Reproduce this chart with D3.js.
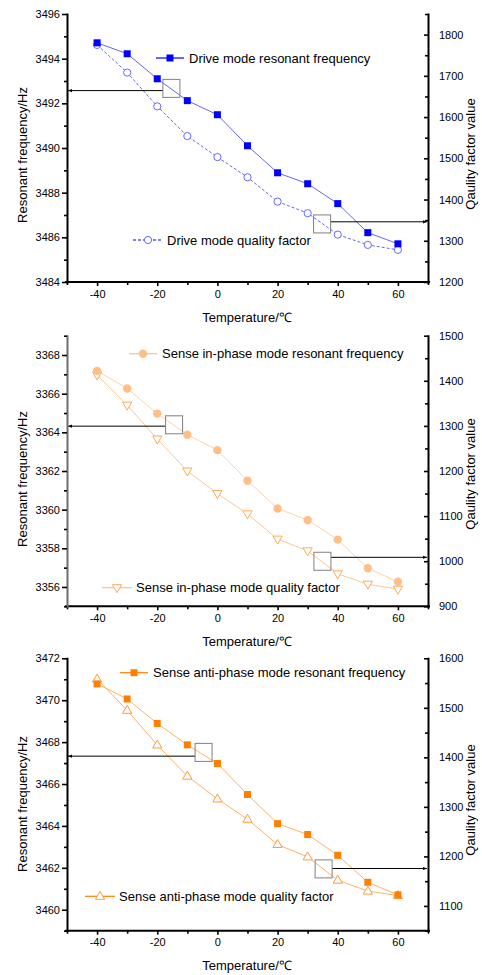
<!DOCTYPE html>
<html>
<head>
<meta charset="UTF-8" />
<script src="https://d3js.org/d3.v7.min.js"></script>
<style>
  body { margin: 0; background: #fff; }
  text { font-family: "Liberation Sans", Arial, sans-serif; fill: #000; }
</style>
</head>
<body>
<div id="chart"></div>
<script>
// ---- data ----
var temps = [-40, -30, -20, -10, 0, 10, 20, 30, 40, 50, 60];

var driveFreq = [3494.71, 3494.22, 3493.10, 3492.12, 3491.49, 3490.10, 3488.89, 3488.40, 3487.51, 3486.21, 3485.71];
var driveQ = [1775, 1708, 1626, 1554, 1503, 1454, 1395, 1367, 1315, 1290, 1278];

var inFreq = [3367.18, 3366.27, 3364.97, 3363.88, 3363.08, 3361.50, 3360.06, 3359.46, 3358.45, 3356.97, 3356.27];
var inQ = [1413, 1346, 1271, 1200, 1150, 1105, 1049, 1023, 972, 949, 938];

var antiFreq = [3470.78, 3470.06, 3468.89, 3467.87, 3466.98, 3465.50, 3464.11, 3463.59, 3462.60, 3461.31, 3460.71];
var antiQ = [1558, 1495, 1425, 1362, 1316, 1275, 1224, 1199, 1152, 1130, 1121];

var xTicks = [-40, -20, 0, 20, 40, 60];
var xMinor = [-50, -30, -10, 10, 30, 50, 70];

var legendNames = [
  ["Drive mode resonant frequency", "Drive mode quality factor"],
  ["Sense in-phase mode resonant frequency", "Sense in-phase mode quality factor"],
  ["Sense anti-phase mode resonant frequency", "Sense anti-phase mode quality factor"]
];

// annotation: [x, left-axis y of box, left-axis y of arrow] for the box pointing left,
// [x, left-axis y of box, right-axis y of arrow] for the box pointing right
var annLeft = [[-15.3, 3492.67, 3492.57], [-14.4, 3364.39, 3364.32], [-4.6, 3467.51, 3467.33]];
var annRight = [[34.8, 3486.6, 1346], [34.9, 3357.33, 1008.6], [35.3, 3461.95, 1175.6]];

// ---- layout ----
var W = 482, H = 975;
var xLeft = 67, xRight = 428;

var svg = d3.select("#chart").append("svg")
  .attr("width", W).attr("height", H);

svg.append("defs").append("marker")
  .attr("id", "arr")
  .attr("viewBox", "0 0 10 10")
  .attr("refX", 10).attr("refY", 5)
  .attr("markerWidth", 5).attr("markerHeight", 4)
  .attr("orient", "auto")
  .append("path").attr("d", "M0,1L10,5L0,9z").attr("fill", "#000");

var x = d3.scaleLinear().domain([-50, 70]).range([xLeft, xRight]);
var plain = function (d) { return String(d); };

var panels = [
  {
    top: 14, bottom: 282,
    left: [3484, 3496], right: [1200, 1850],
    lTicks: d3.range(3484, 3497, 2), lMinor: d3.range(3485, 3496, 2),
    rTicks: d3.range(1200, 1801, 100), rMinor: d3.range(1250, 1851, 100),
    freq: driveFreq, q: driveQ,
    freqMarker: "square", qMarker: "circleOpen",
    fill: "#0000ff", line: "#6464ff", qStroke: "#6868ff", qLine: "#6464ff", qDash: "3,2",
    legFreq: [170, 58], legQ: [148, 240], legLine: "#0000ff", legQLine: "#0000ff",
    leftAxisColor: "#000", titleY: 155, rTitleY: 154
  },
  {
    top: 335.7, bottom: 606.3,
    left: [3355, 3369], right: [900, 1500],
    lTicks: d3.range(3356, 3369, 2), lMinor: d3.range(3355, 3370, 2),
    rTicks: d3.range(900, 1501, 100), rMinor: d3.range(950, 1451, 100),
    freq: inFreq, q: inQ,
    freqMarker: "circle", qMarker: "triDown",
    fill: "#ffbf87", line: "#ffd3aa", qStroke: "#ffa95a", qLine: "#ffc690", qDash: null,
    legFreq: [143, 353.7], legQ: [117, 587.7], legLine: "#ffbf87", legQLine: "#ffbf87",
    leftAxisColor: "#6e6e6e", titleY: 479, rTitleY: 474
  },
  {
    top: 658.3, bottom: 930.7,
    left: [3459, 3472], right: [1050, 1600],
    lTicks: d3.range(3460, 3473, 2), lMinor: d3.range(3459, 3472, 2),
    rTicks: d3.range(1100, 1601, 100), rMinor: d3.range(1050, 1551, 100),
    freq: antiFreq, q: antiQ,
    freqMarker: "square", qMarker: "triUp",
    fill: "#ff8000", line: "#ffb366", qStroke: "#ff9b3a", qLine: "#ffb366", qDash: null,
    legFreq: [134, 672.7], legQ: [100, 896.3], legLine: "#ff8000", legQLine: "#ff8000",
    leftAxisColor: "#000", titleY: 804, rTitleY: 800
  }
];

function drawMarker(g, kind, cx, cy, p) {
  if (kind === "square") {
    g.append("rect").attr("x", cx - 3.5).attr("y", cy - 3.5)
      .attr("width", 7).attr("height", 7).attr("fill", p.fill);
  } else if (kind === "circle") {
    g.append("circle").attr("cx", cx).attr("cy", cy).attr("r", 4.2).attr("fill", p.fill);
  } else if (kind === "circleOpen") {
    g.append("circle").attr("cx", cx).attr("cy", cy).attr("r", 3.6)
      .attr("fill", "#fff").attr("stroke", p.qStroke).attr("stroke-width", 1);
  } else {
    var s = kind === "triDown" ? -1 : 1;
    var path = "M" + cx + "," + (cy - s * 5) + "L" + (cx + 4.6) + "," + (cy + s * 3) +
      "L" + (cx - 4.6) + "," + (cy + s * 3) + "Z";
    g.append("path").attr("d", path).attr("fill", "#fff")
      .attr("stroke", p.qStroke).attr("stroke-width", 1);
  }
}

panels.forEach(function (p, i) {
  var yL = d3.scaleLinear().domain(p.left).range([p.bottom, p.top]);
  var yR = d3.scaleLinear().domain(p.right).range([p.bottom, p.top]);
  var g = svg.append("g");

  // lines
  var lineF = d3.line().x(function (d, k) { return x(temps[k]); }).y(function (d) { return yL(d); });
  var lineQ = d3.line().x(function (d, k) { return x(temps[k]); }).y(function (d) { return yR(d); });

  g.append("path").attr("d", lineQ(p.q)).attr("fill", "none")
    .attr("stroke", p.qLine).attr("stroke-width", 1)
    .attr("stroke-dasharray", p.qDash);
  g.append("path").attr("d", lineF(p.freq)).attr("fill", "none")
    .attr("stroke", p.line).attr("stroke-width", 1);

  p.q.forEach(function (v, k) { drawMarker(g, p.qMarker, x(temps[k]), yR(v), p); });
  p.freq.forEach(function (v, k) { drawMarker(g, p.freqMarker, x(temps[k]), yL(v), p); });

  // annotation boxes and arrows
  var a = annLeft[i];
  g.append("line").attr("x1", x(a[0]) - 8.5).attr("x2", xLeft + 1)
    .attr("y1", yL(a[2])).attr("y2", yL(a[2]))
    .attr("stroke", "#000").attr("stroke-width", 1).attr("marker-end", "url(#arr)");
  g.append("rect").attr("x", x(a[0]) - 8.5).attr("y", yL(a[1]) - 9)
    .attr("width", 17).attr("height", 18)
    .attr("fill", "none").attr("stroke", "#808080").attr("stroke-width", 1);
  var b = annRight[i];
  g.append("line").attr("x1", x(b[0]) + 8.5).attr("x2", xRight - 1)
    .attr("y1", yR(b[2])).attr("y2", yR(b[2]))
    .attr("stroke", "#000").attr("stroke-width", 1).attr("marker-end", "url(#arr)");
  g.append("rect").attr("x", x(b[0]) - 8.5).attr("y", yL(b[1]) - 9)
    .attr("width", 17).attr("height", 18)
    .attr("fill", "none").attr("stroke", "#808080").attr("stroke-width", 1);

  // axes
  var fs = "11px";
  var bottomAx = g.append("g").attr("transform", "translate(0," + p.bottom + ")");
  bottomAx.call(d3.axisBottom(x).tickValues(xTicks).tickFormat(plain)
    .tickSize(4).tickSizeOuter(0).tickPadding(4));
  bottomAx.append("g").call(d3.axisBottom(x).tickValues(xMinor).tickSize(3).tickSizeOuter(0).tickFormat(""))
    .select(".domain").remove();

  var leftAx = g.append("g").attr("transform", "translate(" + xLeft + ",0)");
  leftAx.call(d3.axisLeft(yL).tickValues(p.lTicks).tickFormat(plain)
    .tickSize(5).tickSizeOuter(0).tickPadding(2));
  leftAx.append("g").call(d3.axisLeft(yL).tickValues(p.lMinor).tickSize(3).tickSizeOuter(0).tickFormat(""))
    .select(".domain").remove();
  leftAx.select(".domain").attr("stroke", p.leftAxisColor);

  var rightAx = g.append("g").attr("transform", "translate(" + xRight + ",0)");
  rightAx.call(d3.axisRight(yR).tickValues(p.rTicks).tickFormat(plain)
    .tickSize(-4).tickSizeOuter(0).tickPadding(11));
  rightAx.append("g").call(d3.axisRight(yR).tickValues(p.rMinor).tickSize(-3).tickSizeOuter(0).tickFormat(""))
    .select(".domain").remove();

  [bottomAx, leftAx, rightAx].forEach(function (ax) {
    ax.selectAll(".domain").attr("stroke-width", 2).attr("stroke-linecap", "square");
    ax.selectAll(".tick line").attr("stroke", "#000").attr("stroke-width", 1.6);
    ax.selectAll("text").attr("font-size", fs)
      .style("font-family", "'Liberation Sans', Arial, sans-serif").attr("fill", "#000");
  });
  bottomAx.select(".domain").attr("d", "M" + (xLeft - 1) + ",0H" + (xRight + 1));

  // titles
  g.append("text").attr("x", (xLeft + xRight) / 2 - 0.5).attr("y", p.bottom + 35)
    .attr("text-anchor", "middle").attr("dy", "0.35em").attr("font-size", "13px")
    .text("Temperature/\u2103");
  g.append("text").attr("transform", "translate(22," + p.titleY + ") rotate(-90)")
    .attr("text-anchor", "middle").attr("dy", "0.35em").attr("font-size", "13px")
    .text("Resonant frequency/Hz");
  g.append("text").attr("transform", "translate(470," + p.rTitleY + ") rotate(-90)")
    .attr("text-anchor", "middle").attr("dy", "0.35em").attr("font-size", "13px")
    .text("Qaulity factor value");

  // legends
  var lf = p.legFreq, lq = p.legQ;
  g.append("line").attr("x1", lf[0] - 14).attr("x2", lf[0] + 14).attr("y1", lf[1]).attr("y2", lf[1])
    .attr("stroke", p.legLine).attr("stroke-width", 1.2);
  drawMarker(g, p.freqMarker, lf[0], lf[1], p);
  g.append("text").attr("x", lf[0] + 19).attr("y", lf[1]).attr("dy", "0.35em")
    .attr("font-size", "13px").text(legendNames[i][0]);

  g.append("line").attr("x1", lq[0] - 15).attr("x2", lq[0] + 15).attr("y1", lq[1]).attr("y2", lq[1])
    .attr("stroke", p.legQLine).attr("stroke-width", 1.2)
    .attr("stroke-dasharray", p.qDash);
  drawMarker(g, p.qMarker, lq[0], lq[1], p);
  g.append("text").attr("x", lq[0] + 19).attr("y", lq[1]).attr("dy", "0.35em")
    .attr("font-size", "13px").text(legendNames[i][1]);
});
</script>
</body>
</html>
